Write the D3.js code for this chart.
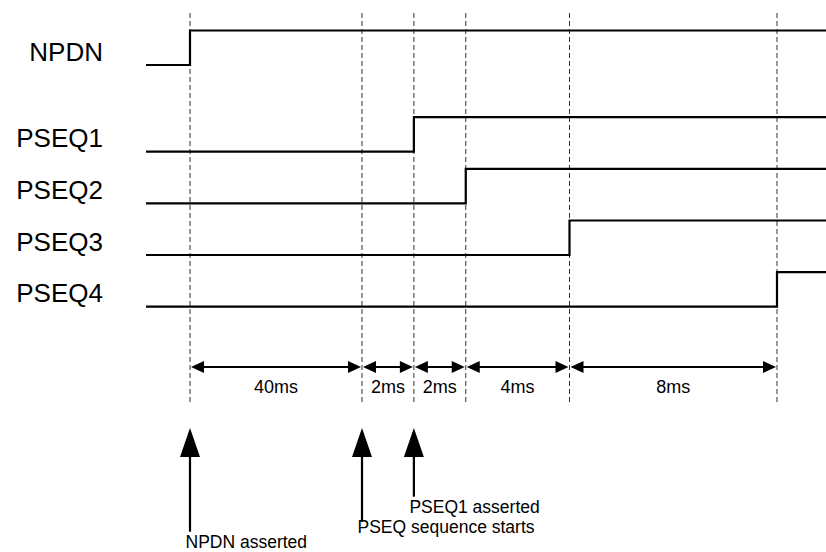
<!DOCTYPE html>
<html>
<head>
<meta charset="utf-8">
<script src="https://cdn.jsdelivr.net/npm/d3@7"></script>
<style>
  body { margin: 0; background: #fff; }
  svg { display: block; font-family: "Liberation Sans", Arial, sans-serif; }
</style>
</head>
<body>
<svg id="timing"></svg>
<script>
// signal names and the time (ms) where each one goes high
var signals = ["NPDN", "PSEQ1", "PSEQ2", "PSEQ3", "PSEQ4"];
var riseTimes = [0, 42, 44, 48, 56];

// vertical marker times and the intervals between them
var markerTimes = [0, 40, 42, 44, 48, 56];
var intervalLabels = ["40ms", "2ms", "2ms", "4ms", "8ms"];

// event callouts at the bottom
var eventNames = ["NPDN asserted", "PSEQ sequence starts", "PSEQ1 asserted"];
var eventTimes = [0, 40, 42];

var width = 826, height = 552;

var svg = d3.select("#timing")
    .attr("width", width)
    .attr("height", height);

// time axis is not to scale: 40ms squeezed, the rest linear
var x = d3.scaleLinear()
    .domain([0, 40, 56])
    .range([190, 362, 777]);

// low level of each waveform row
var y = d3.scaleOrdinal()
    .domain(signals)
    .range([65, 151.7, 203.3, 255, 306.7]);

var swing = 34.5;        // high level sits this far above low
var waveStart = 146;     // left end of every waveform
var dimY = 367;          // y of the dimension arrows
var arrowTip = 428;      // tip of the bottom callout arrows
var stemEnds = [531.7, 521.7, 496.7];
var textBase = [548, 532.5, 513];

// dashed marker lines
svg.selectAll("line.marker")
    .data(markerTimes)
    .enter()
    .append("line")
    .attr("class", "marker")
    .attr("x1", d => x(d))
    .attr("x2", d => x(d))
    .attr("y1", 13)
    .attr("y2", 402)
    .attr("stroke", "#333")
    .attr("stroke-width", 1)
    .attr("stroke-dasharray", "5,3");

// waveforms
var waves = signals.map((s, i) => ({ name: s, t: riseTimes[i] }));

svg.selectAll("path.wave")
    .data(waves)
    .enter()
    .append("path")
    .attr("class", "wave")
    .attr("d", d => {
        var lo = y(d.name), hi = lo - swing, xr = x(d.t);
        return "M" + waveStart + "," + lo + "H" + xr + "V" + hi + "H" + width;
    })
    .attr("fill", "none")
    .attr("stroke", "#000")
    .attr("stroke-width", 2.2);

// signal names
svg.selectAll("text.sig")
    .data(waves)
    .enter()
    .append("text")
    .attr("class", "sig")
    .attr("x", 103)
    .attr("y", d => y(d.name) - 4.5)
    .attr("text-anchor", "end")
    .style("font-size", "26px")
    .text(d => d.name);

// dimension arrows between markers
var spans = intervalLabels.map((l, i) => ({ label: l, a: markerTimes[i], b: markerTimes[i + 1] }));
var headLen = 13, headHalf = 6;

var dims = svg.selectAll("g.dim")
    .data(spans)
    .enter()
    .append("g")
    .attr("class", "dim");

dims.append("line")
    .attr("x1", d => x(d.a) + 4)
    .attr("x2", d => x(d.b) - 4)
    .attr("y1", dimY)
    .attr("y2", dimY)
    .attr("stroke", "#000")
    .attr("stroke-width", 2);

dims.append("path")
    .attr("d", d => {
        var xa = x(d.a) + 1, xb = x(d.b) - 1;
        return "M" + xa + "," + dimY + "L" + (xa + headLen) + "," + (dimY - headHalf) + "L" + (xa + headLen) + "," + (dimY + headHalf) + "Z" +
               "M" + xb + "," + dimY + "L" + (xb - headLen) + "," + (dimY - headHalf) + "L" + (xb - headLen) + "," + (dimY + headHalf) + "Z";
    })
    .attr("fill", "#000");

dims.append("text")
    .attr("x", d => (x(d.a) + x(d.b)) / 2)
    .attr("y", 393)
    .attr("text-anchor", "middle")
    .style("font-size", "18px")
    .text(d => d.label);

// callout arrows with captions
var events = eventNames.map((n, i) => ({ name: n, t: eventTimes[i], stem: stemEnds[i], base: textBase[i] }));

var ev = svg.selectAll("g.event")
    .data(events)
    .enter()
    .append("g")
    .attr("class", "event");

ev.append("line")
    .attr("x1", d => x(d.t))
    .attr("x2", d => x(d.t))
    .attr("y1", arrowTip + 20)
    .attr("y2", d => d.stem)
    .attr("stroke", "#000")
    .attr("stroke-width", 2.2);

ev.append("path")
    .attr("d", d => {
        var cx = x(d.t);
        return "M" + cx + "," + arrowTip + "L" + (cx + 10) + "," + (arrowTip + 29) + "L" + (cx - 10) + "," + (arrowTip + 29) + "Z";
    })
    .attr("fill", "#000");

ev.append("text")
    .attr("x", d => x(d.t) - 4.5)
    .attr("y", d => d.base)
    .style("font-size", "17.5px")
    .text(d => d.name);
</script>
</body>
</html>
